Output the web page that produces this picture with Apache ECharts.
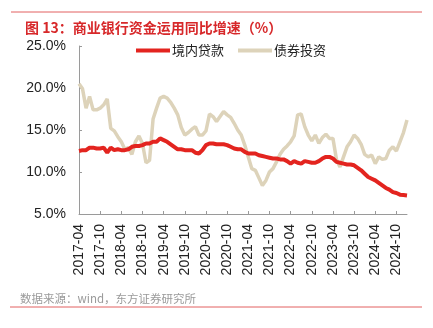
<!DOCTYPE html>
<html>
<head>
<meta charset="utf-8">
<script src="https://cdn.jsdelivr.net/npm/echarts@6/dist/echarts.min.js"></script>
<style>
  html, body { margin: 0; padding: 0; background: #fff; }
  #chart { width: 433px; height: 328px; }
</style>
</head>
<body>
<div id="chart"></div>
<script>
// Monthly categories, 2017-04 through 2025-01
const months = [];
for (let y = 2017, m = 4; y < 2025 || (y === 2025 && m <= 1); m++) {
  if (m > 12) { m = 1; y++; if (y === 2025 && m > 1) break; }
  months.push(y + '-' + String(m).padStart(2, '0'));
}

const seriesNames = ['境内贷款', '债券投资'];

// 境内贷款 同比增速 (%)
const loanGrowth = [
  12.5, 12.6, 12.6, 12.9, 12.9, 12.8, 12.8, 12.9, 12.3, 12.9,
  12.6, 12.7, 12.6, 12.6, 12.7, 13.0, 13.1, 13.1, 13.2, 13.4,
  13.4, 13.6, 13.6, 14.0, 13.8, 13.6, 13.3, 13.0, 12.7, 12.7,
  12.6, 12.6, 12.6, 12.3, 12.2, 12.6, 13.2, 13.4, 13.4, 13.3,
  13.3, 13.3, 13.2, 13.0, 12.8, 12.7, 12.7, 12.4, 12.2, 12.2,
  12.2, 12.0, 11.9, 11.8, 11.7, 11.6, 11.6, 11.5, 11.5, 11.3,
  11.0, 11.3, 11.1, 11.0, 11.3, 11.2, 11.1, 11.1, 11.3, 11.6,
  11.8, 11.8, 11.6, 11.2, 11.1, 11.0, 10.9, 10.9, 10.8, 10.5,
  10.2, 9.8, 9.4, 9.2, 9.0, 8.7, 8.4, 8.1, 7.9, 7.6,
  7.5, 7.3, 7.25, 7.2
];

// 债券投资 同比增速 (%)
const bondGrowth = [
  20.5, 19.9, 17.6, 19.0, 17.4, 17.4, 17.6, 18.0, 18.7, 15.2,
  14.9, 14.2, 13.6, 12.7, 12.9, 12.1, 13.6, 14.3, 13.4, 11.1,
  11.4, 16.3, 17.6, 18.8, 19.0, 18.8, 18.3, 17.6, 16.8, 15.3,
  14.4, 14.7, 15.1, 15.4, 14.4, 14.4, 14.9, 16.9, 16.6, 16.0,
  16.6, 17.2, 16.8, 16.5, 15.8, 15.0, 14.4, 13.2, 11.8, 10.4,
  10.2, 9.3, 8.4, 9.0, 10.0, 10.4, 11.2, 12.1, 12.7, 13.1,
  13.6, 14.3, 16.8, 16.9, 15.4, 14.4, 13.7, 14.4, 13.4, 14.1,
  14.5, 14.0, 14.0, 11.5, 10.6, 11.8, 13.0, 13.6, 14.4, 14.0,
  13.3, 12.1, 11.8, 12.0, 11.0, 11.8, 11.5, 11.6, 12.6, 13.0,
  12.5, 13.6, 14.7, 16.2
];

// y-axis range and step (%)
const yMin = 5, yMax = 25, yStep = 5;

const chart = echarts.init(document.getElementById('chart'), null, { renderer: 'canvas' });

const red = '#e3241f';
const beige = '#ddd3ba';

chart.setOption({
  animation: false,
  backgroundColor: '#ffffff',
  title: {
    text: '图 13：商业银行资金运用同比增速（%）',
    left: 20,
    top: 16,
    textStyle: {
      color: '#d7282a',
      fontSize: 14,
      fontWeight: 'bold',
      fontFamily: '"Noto Sans CJK SC", "Liberation Sans", sans-serif'
    }
  },
  legend: {
    data: seriesNames,
    left: 136,
    top: 44,
    padding: 0,
    itemWidth: 34,
    itemHeight: 4,
    itemGap: 14,
    icon: 'rect',
    textStyle: {
      fontSize: 13,
      color: '#222',
      padding: [0, 0, 0, -3],
      fontFamily: '"Noto Sans CJK SC", sans-serif'
    }
  },
  grid: { left: 79, right: 26, top: 46, bottom: 114 },
  xAxis: {
    type: 'category',
    data: months,
    boundaryGap: false,
    axisLine: { lineStyle: { color: '#9a9a9a', width: 1 } },
    axisTick: { inside: true, length: 3, interval: 5, lineStyle: { color: '#9a9a9a' } },
    axisLabel: {
      interval: 5,
      rotate: 90,
      margin: 10,
      fontSize: 14,
      color: '#222',
      fontFamily: '"Liberation Sans", Arial, sans-serif'
    },
    splitLine: { show: false }
  },
  yAxis: {
    type: 'value',
    min: yMin,
    max: yMax,
    interval: yStep,
    axisLine: { show: true, lineStyle: { color: '#9a9a9a', width: 1 } },
    axisTick: { show: true, inside: true, length: 3, lineStyle: { color: '#9a9a9a' } },
    axisLabel: {
      margin: 13,
      fontSize: 14,
      color: '#222',
      fontFamily: '"Liberation Sans Narrow", "Liberation Sans", Arial, sans-serif',
      formatter: v => v.toFixed(1) + '%'
    },
    splitLine: { show: false }
  },
  series: [
    {
      name: seriesNames[0],
      type: 'line',
      data: loanGrowth,
      showSymbol: false,
      z: 3,
      lineStyle: { color: red, width: 4 },
      itemStyle: { color: red }
    },
    {
      name: seriesNames[1],
      type: 'line',
      data: bondGrowth,
      showSymbol: false,
      z: 2,
      lineStyle: { color: beige, width: 3.5 },
      itemStyle: { color: beige }
    }
  ],
  graphic: [
    {
      type: 'line',
      shape: { x1: 11, y1: 12, x2: 422, y2: 12 },
      style: { stroke: '#e26060', lineWidth: 1 }
    },
    {
      type: 'line',
      shape: { x1: 10, y1: 307, x2: 422, y2: 307 },
      style: { stroke: '#e26060', lineWidth: 1 }
    },
    {
      type: 'text',
      left: 20,
      top: 293,
      style: {
        text: '数据来源：wind，东方证券研究所',
        fill: '#9a9a9a',
        fontSize: 11.5,
        fontFamily: '"Noto Sans CJK SC", sans-serif'
      }
    }
  ]
});
</script>
</body>
</html>
